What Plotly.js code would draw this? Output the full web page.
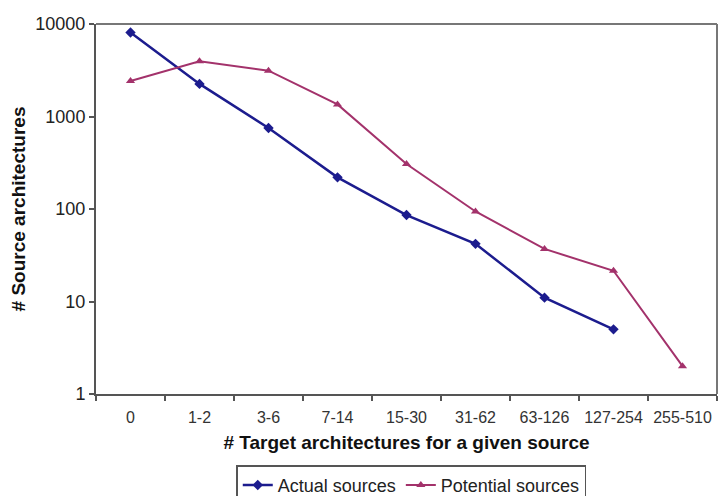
<!DOCTYPE html>
<html>
<head>
<meta charset="utf-8">
<script src="https://cdn.plot.ly/plotly-3.0.1.min.js"></script>
<style>html,body{margin:0;padding:0;background:#fff;}#chart{width:719px;height:496px;}</style>
</head>
<body>
<div id="chart"></div>
<script>
const categories = ["0", "1-2", "3-6", "7-14", "15-30", "31-62", "63-126", "127-254", "255-510"];
const actualSources = [8100, 2250, 750, 220, 86, 42, 11, 5, null];
const potentialSources = [2420, 3950, 3130, 1350, 306, 94, 37, 21.5, 2];
const yTickVals = [1, 10, 100, 1000, 10000];
const yTickText = ["1", "10", "100", "1000", "10000"];

const font = "Liberation Sans, Arial, sans-serif";

const traces = [
  {
    x: categories, y: actualSources, name: "Actual sources", type: "scatter", mode: "lines+markers",
    line: {color: "#1c1c8e", width: 2.5},
    marker: {symbol: "diamond", size: 8, color: "#1c1c8e"}
  },
  {
    x: categories, y: potentialSources, name: "Potential sources", type: "scatter", mode: "lines+markers",
    line: {color: "#a3326b", width: 2},
    marker: {symbol: "triangle-up", size: 8, color: "#a3326b"}
  }
];

const layout = {
  width: 719, height: 496,
  margin: {l: 96, r: 2, t: 24, b: 102, autoexpand: false},
  paper_bgcolor: "#fff", plot_bgcolor: "#fff",
  font: {family: font, color: "#222"},
  showlegend: true,
  legend: {
    orientation: "h", x: 0.572, xanchor: "center", xref: "container",
    y: 0.062, yanchor: "top", yref: "container",
    font: {size: 18, family: font, color: "#222"},
    bordercolor: "#555", borderwidth: 1.5, bgcolor: "#fff",
    tracegroupgap: 0
  },
  xaxis: {
    type: "category",
    tickson: "boundaries",
    ticks: "outside", ticklen: 5, tickwidth: 2, tickcolor: "#555",
    showline: true, linecolor: "#555", linewidth: 2,
    showgrid: false, zeroline: false,
    ticklabelstandoff: 8,
    tickfont: {size: 16, family: font, color: "#333"},
    title: {text: "# Target architectures for a given source", font: {size: 19, family: font, color: "#111", weight: "bold"}, standoff: 10},
    range: [-0.5, 8.5]
  },
  yaxis: {
    type: "log",
    range: [0, 4],
    tickvals: yTickVals, ticktext: yTickText,
    ticks: "outside", ticklen: 5, tickwidth: 2, tickcolor: "#555",
    showline: true, linecolor: "#555", linewidth: 2,
    showgrid: false, zeroline: false,
    tickfont: {size: 18, family: font, color: "#222"},
    title: {text: "# Source architectures", font: {size: 19, family: font, color: "#111", weight: "bold"}, standoff: 5}
  },
  shapes: [
    {type: "line", xref: "paper", yref: "paper", x0: 0, x1: 1, y0: 1, y1: 1, line: {color: "#777", width: 2}},
    {type: "line", xref: "paper", yref: "paper", x0: 1, x1: 1, y0: 0, y1: 1, line: {color: "#777", width: 2}}
  ]
};

Plotly.newPlot("chart", traces, layout, {displayModeBar: false, staticPlot: true});
</script>
</body>
</html>
